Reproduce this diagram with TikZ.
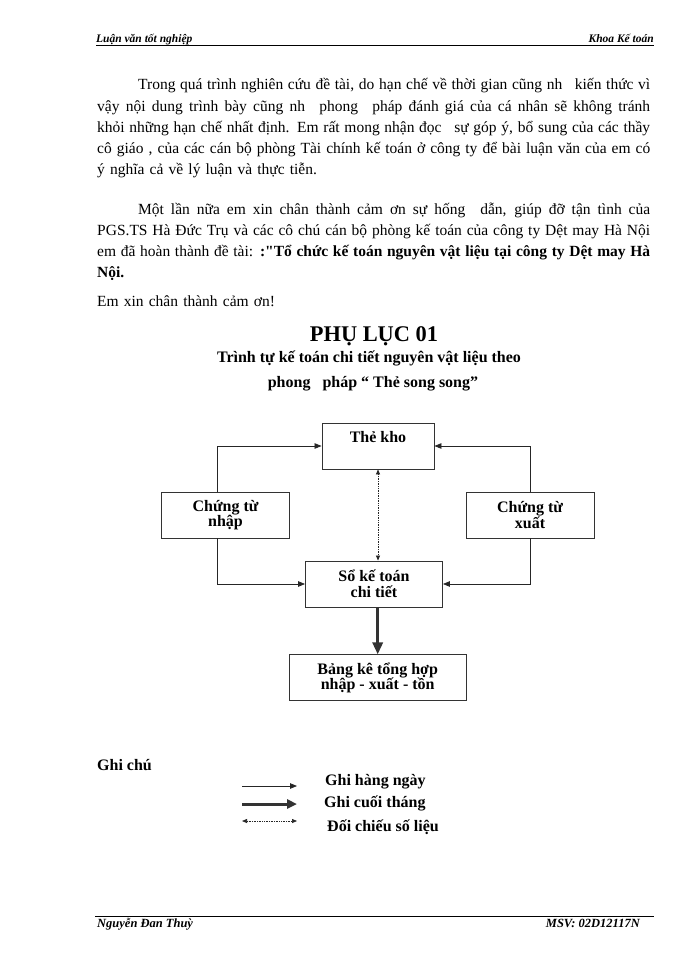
\documentclass[tikz,border=0pt]{standalone}
\usepackage{fontspec}
\setmainfont{Liberation Serif}
\usetikzlibrary{positioning,arrows.meta,calc}
\newcommand{\dongdeu}[2][553pt]{\makebox[#1][s]{\spaceskip=0pt\xspaceskip=0pt #2}}
\newcommand{\ngoacthang}{{\addfontfeature{Ligatures=TeXOff}"}}

\begin{document}
\begin{tikzpicture}[x=1pt,y=-1pt,
  every node/.style={inner sep=0pt},
  van/.style={font=\fontsize{15.5}{21.1}\selectfont,text width=553pt,align=left,anchor=base west},
  tieude/.style={font=\bfseries\fontsize{16}{18}\selectfont,anchor=base},
  hop/.style={draw=black!80,line width=0.9pt,minimum height=46pt,align=center,font=\bfseries\fontsize{16}{15.5}\selectfont},
  chu/.style={font=\bfseries\fontsize{16}{18}\selectfont,anchor=base west},
  dau/.style={font=\bfseries\itshape\fontsize{11.5}{13}\selectfont,anchor=base west},
  chan/.style={font=\bfseries\itshape\fontsize{12.5}{14}\selectfont,anchor=base west},
  fl/.style={-{Triangle[length=7pt,width=5.5pt]},black!85,line width=0.8pt},
  flday/.style={-{Triangle[length=12pt,width=10pt]},black!80,line width=3.5pt},
  flcham/.style={{Triangle[length=5pt,width=4pt]}-{Triangle[length=5pt,width=4pt]},black!85,densely dotted,line width=0.7pt}
]
\fill[white] (0,0) rectangle (700,960);
\useasboundingbox (0,0) rectangle (700,960);

\node[dau] (luan) at (96,43) {Luận văn tốt nghiệp};
\node[dau,anchor=base east] (khoa) at (654,43) {Khoa Kế toán};
\draw[line width=0.9pt] (96,45.5) -- (654,45.5);

\node[van] (doan1) at (97,90) {\hspace*{41pt}\dongdeu[512pt]{Trong quá trình nghiên cứu đề tài, do hạn chế về thời gian cũng nh\hspace{8pt} kiến thức vì}\\
\dongdeu{vậy nội dung trình bày cũng nh\hspace{8pt} phong\hspace{8pt} pháp đánh giá của cá nhân sẽ không tránh}\\
\dongdeu{khỏi những hạn chế nhất định. Em rất mong nhận đọc\hspace{8pt} sự góp ý, bổ sung của các thầy}\\
\dongdeu{cô giáo , của các cán bộ phòng Tài chính kế toán ở công ty để bài luận văn của em có}\\
ý nghĩa cả về lý luận và thực tiễn.};
\node[van] (doan2) at (97,214) {\hspace*{41pt}\dongdeu[512pt]{Một lần nữa em xin chân thành cảm ơn sự hống\hspace{8pt} dẫn, giúp đỡ tận tình của}\\
\dongdeu{PGS.TS Hà Đức Trụ và các cô chú cán bộ phòng kế toán của công ty Dệt may Hà Nội}\\
\dongdeu{em đã hoàn thành đề tài: \textbf{:\ngoacthang Tổ chức kế toán nguyên vật liệu tại công ty Dệt may Hà}}\\
\textbf{Nội.}};
\node[van] (camon) at (97,306) {Em xin chân thành cảm ơn!};

\node[font=\bfseries\fontsize{22.4}{24}\selectfont,anchor=base] (phuluc) at (374,341.5) {PHỤ LỤC 01};
\node[tieude] (tt1) at (369,362) {Trình tự kế toán chi tiết nguyên vật liệu theo};
\node[tieude] (tt2) at (373,387) {phong\hspace{12pt}pháp “ Thẻ song song”};

\node[hop,minimum width=112pt,minimum height=0pt,text height=15.5pt,text depth=22.5pt,inner ysep=4pt] (kho) at (378,446) {Thẻ kho};
\node[hop,minimum width=128pt] (nhap) at (225.5,515) {Chứng từ\\nhập};
\node[hop,minimum width=128pt] (xuat) at (530,515) {Chứng từ\\xuất};
\node[hop,minimum width=137pt] (so) at (374,584) {Sổ kế toán\\chi tiết};
\node[hop,minimum width=177pt,below=47pt of so,xshift=3.7pt] (bang) {Bảng kê tổng hợp\\nhập - xuất - tồn};

\draw[fl] ([xshift=-8pt]nhap.north) |- (kho.west);
\draw[fl] ([xshift=-8pt]nhap.south) |- (so.west);
\draw[fl] (xuat.north) |- (kho.east);
\draw[fl] (xuat.south) |- (so.east);
\draw[flcham] (kho.south) -- (kho.south |- so.north);
\draw[flday] (so.south -| bang.north) -- (bang.north);

\node[chu] (ghichu) at (97,770) {Ghi chú};
\node[chu] (ngay) at (325,785) {Ghi hàng ngày};
\node[chu] (thang) at (324,807) {Ghi cuối tháng};
\node[chu] (doichieu) at (327,831.5) {Đối chiếu số liệu};
\coordinate (a1) at (242,786); \coordinate (b1) at (297,786);
\coordinate (a2) at (242,804); \coordinate (b2) at (297,804);
\coordinate (a3) at (242,821); \coordinate (b3) at (297,821);
\draw[fl] (a1) -- (b1);
\draw[flday,line width=3pt,-{Triangle[length=10pt,width=9pt]}] (a2) -- (b2);
\draw[flcham] (a3) -- (b3);

\draw[line width=1.6pt] (95,916.5) -- (654,916.5);
\node[chan] (ten) at (97,927) {Nguyễn Đan Thuỳ};
\node[chan,anchor=base east] (msv) at (640,927) {MSV: 02D12117N};
\end{tikzpicture}
\end{document}
